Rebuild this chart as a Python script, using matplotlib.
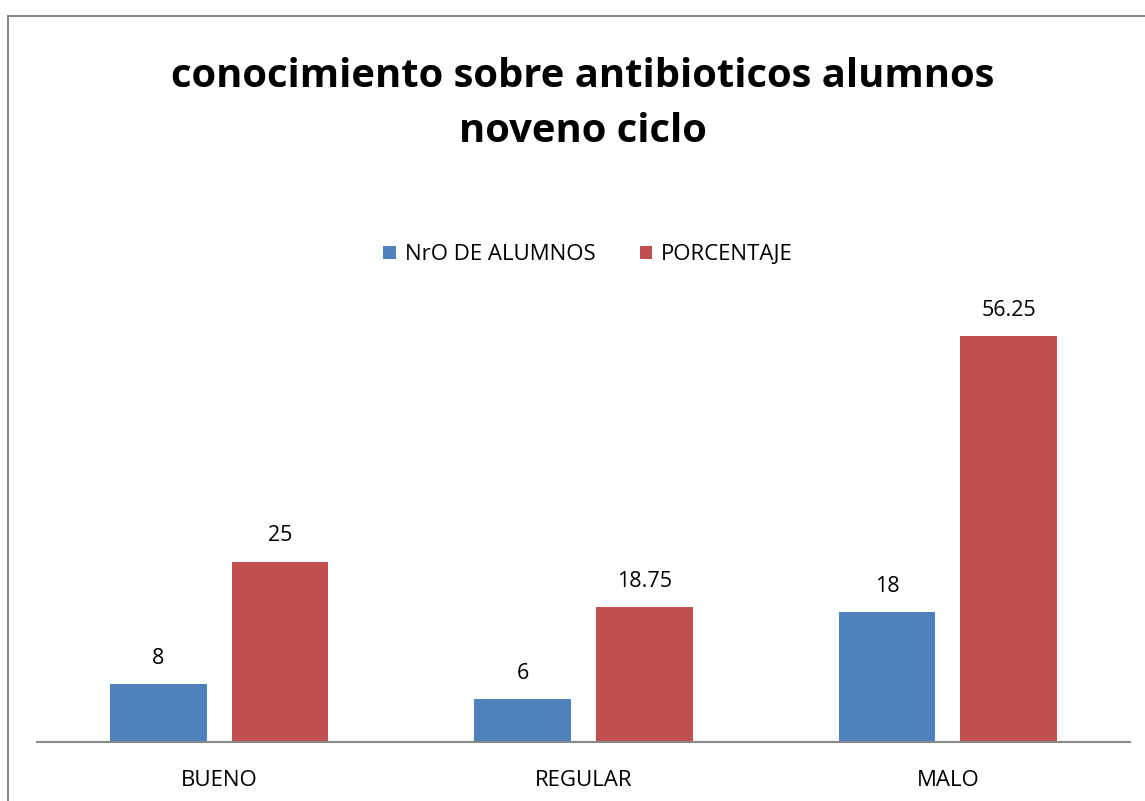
import matplotlib.pyplot as plt
from matplotlib.patches import Rectangle
import numpy as np

categorias = ['BUENO', 'REGULAR', 'MALO']
alumnos = [8, 6, 18]
porcentaje = [25, 18.75, 56.25]
etiquetas_porcentaje = ['25', '18.75', '56.25']

plt.rcParams['font.family'] = ['Open Sans', 'DejaVu Sans']

fig = plt.figure(figsize=(11.45, 8.01), dpi=100)
W, H = 1145, 801

# border of the chart area
fig.patches.append(Rectangle((8 / W, -0.1), 1.2, 1 - 16 / H + 0.1, transform=fig.transFigure,
                             fill=False, edgecolor='#888888', linewidth=1.5))

ax = fig.add_axes([37 / W, (H - 742) / H, 1093 / W, 433 / H])
x = np.arange(len(categorias))
w = 0.266
azul = '#4F81BD'
rojo = '#C0504D'
b1 = ax.bar(x - 0.167, alumnos, w, color=azul, label='NrO DE ALUMNOS')
b2 = ax.bar(x + 0.167, porcentaje, w, color=rojo, label='PORCENTAJE')

for rect, v in zip(b1, alumnos):
    ax.text(rect.get_x() + rect.get_width() / 2, v + 2.1, str(v),
            ha='center', va='bottom', fontsize=15.5)
for rect, v, t in zip(b2, porcentaje, etiquetas_porcentaje):
    ax.text(rect.get_x() + rect.get_width() / 2, v + 2.1, t,
            ha='center', va='bottom', fontsize=15.5)

ax.set_xlim(-0.5, 2.5)
ax.set_ylim(0, 60)
ax.set_yticks([])
ax.set_xticks(x)
ax.set_xticklabels(categorias, fontsize=16)
ax.tick_params(axis='x', length=0, pad=20)
for s in ['top', 'right', 'left']:
    ax.spines[s].set_visible(False)
ax.spines['bottom'].set_color('#888888')
ax.spines['bottom'].set_linewidth(1.5)

fig.text(583 / W, 1 - 104 / H, 'conocimiento sobre antibioticos alumnos\nnoveno ciclo',
         ha='center', va='center', fontsize=28.8, fontweight='bold', linespacing=1.55)

fig.legend(handles=[b1, b2], loc='center', bbox_to_anchor=(588 / W, 1 - 255 / H), ncol=2,
           frameon=False, fontsize=16, handlelength=0.55, handleheight=0.55,
           handletextpad=0.4, columnspacing=2.0)

fig.savefig('out.png', dpi=100)
